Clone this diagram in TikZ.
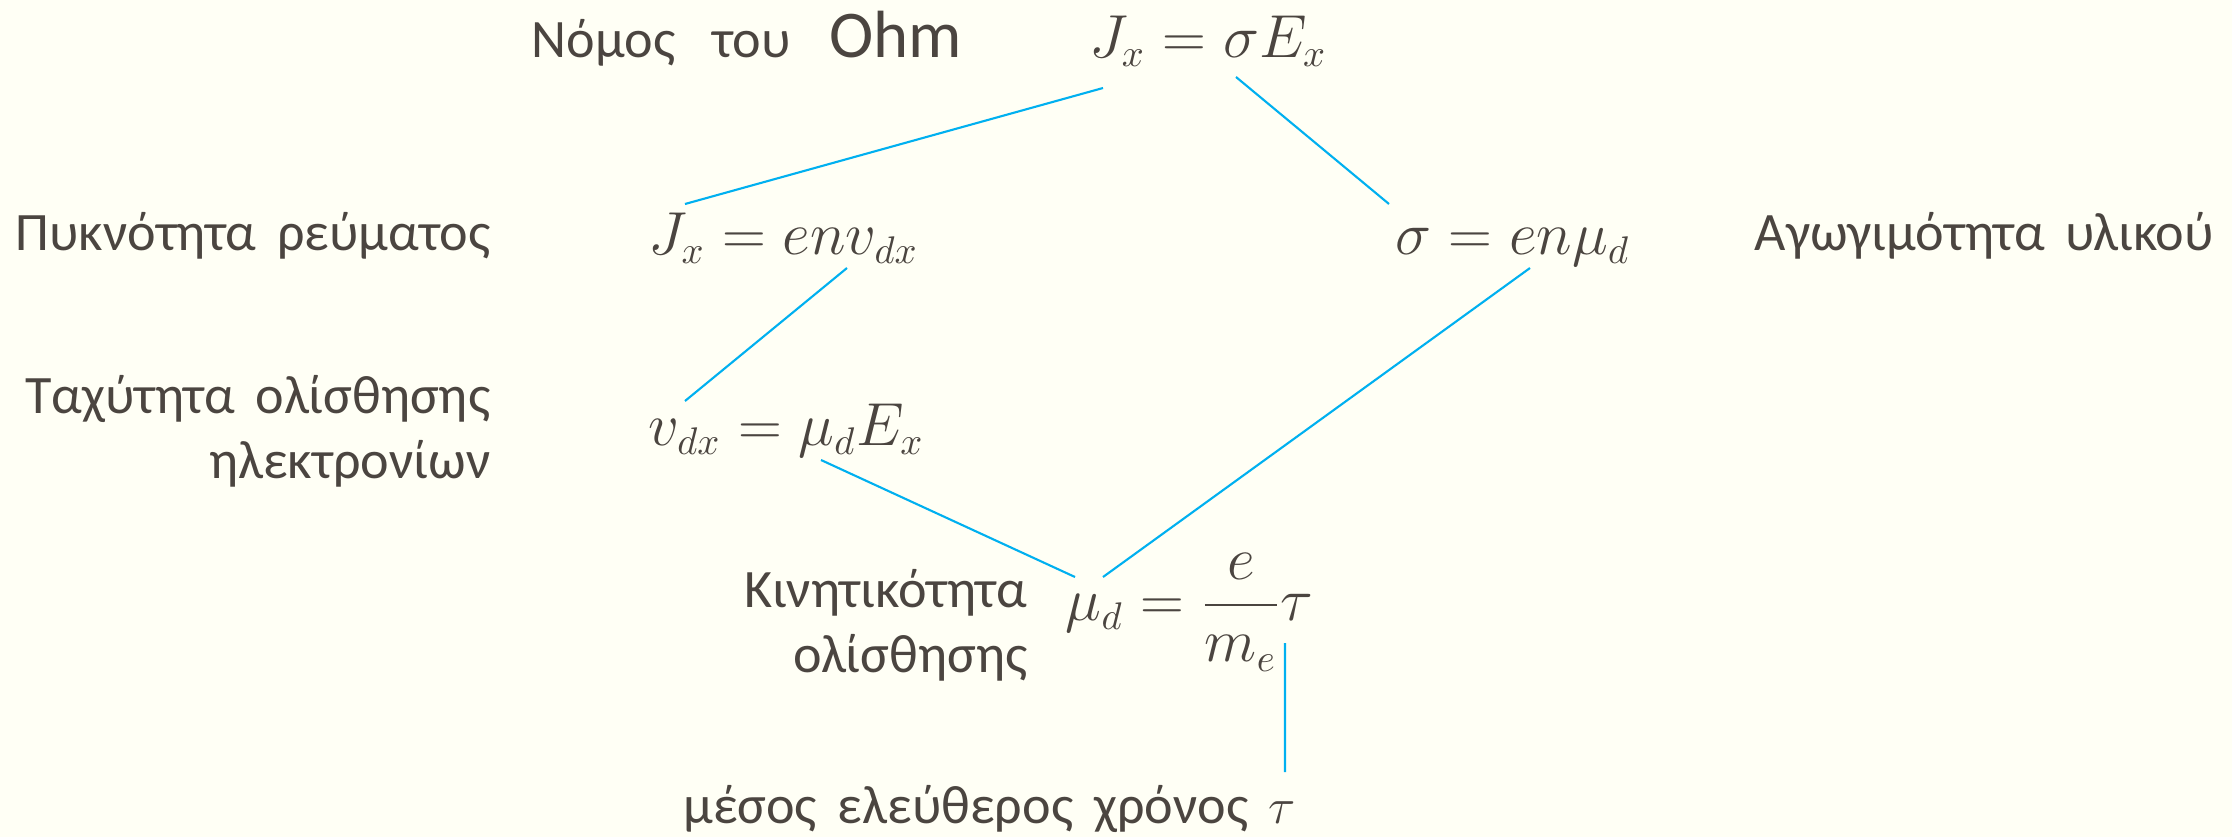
\documentclass[tikz,border=0pt]{standalone}
\usepackage{amsmath}
\usepackage{fontspec}
\setmainfont{Carlito}[WordSpace=1.7]
\usepackage{tikz}
\usetikzlibrary{positioning}
\definecolor{inkgray}{HTML}{4B4540}
\definecolor{paper}{HTML}{FFFFF5}
\definecolor{linkblue}{HTML}{00B0F0}

\begin{document}
\begin{tikzpicture}[
txt/.style={
text=inkgray,
font=\fontsize{15.4}{18.3}\selectfont,
inner sep=0pt
},
eq/.style={
text=inkgray,
font=\fontsize{16.2}{19}\selectfont,
inner sep=0pt
},
link/.style={
draw=linkblue,
line width=0.6pt
}
]

\fill[paper] (0,0) rectangle (22.32,-8.37);
\useasboundingbox (0,0) rectangle (22.32,-8.37);


% Ohm's law

\node (ohmlbl) [txt, anchor=base west] at (5.31,-0.57)
{Νόμος\hspace{0.16cm} του\hspace{0.18cm} {\fontsize{19}{20}\selectfont Ohm}};

\node (ohmeq) [eq, anchor=base] at (12.08,-0.57) {$J_x = \sigma E_x$};


% Current density and conductivity

\node (curlbl) [txt, anchor=base east] at (4.91,-2.50) {Πυκνότητα ρεύματος};

\node (cureq) [eq, anchor=base west] at (6.48,-2.54) {$J_x = env_{dx}$};

\node (sigeq) [eq, anchor=base west] at (13.95,-2.54) {$\sigma = en\mu_d$};

\node (siglbl) [txt, anchor=base west] at (17.54,-2.50) {Αγωγιμότητα υλικού};


% Drift velocity

\node (vellbl) [txt, anchor=base east, align=right] at (4.91,-4.78)
{Ταχύτητα ολίσθησης\\
ηλεκτρονίων};

\node (veleq) [eq, anchor=base west] at (6.48,-4.45) {$v_{dx} = \mu_d E_x$};


% Mobility

\node (moblbl) [txt, anchor=base east, align=right] at (10.28,-6.72)
{Κινητικότητα\\
ολίσθησης};

\node (mobeq) [eq, anchor=west] at (10.65,-6.12) {$\mu_d = \dfrac{e}{m_e}\tau$};


% Mean free time

\node (taulbl) [txt, anchor=base west] at (6.83,-8.23) {μέσος ελεύθερος χρόνος $\tau$};


\draw[link] ([shift={(-1.05,-0.31)}]ohmeq.base) -- ([shift={(0.37,0.50)}]cureq.base west);
\draw[link] ([shift={(0.28,-0.20)}]ohmeq.base) -- ([shift={(-0.06,0.50)}]sigeq.base west);

\draw[link] ([shift={(1.99,-0.14)}]cureq.base west) -- ([shift={(0.37,0.44)}]veleq.base west);
\draw[link] ([shift={(1.35,-0.14)}]sigeq.base west) -- ([shift={(0.38,0.35)}]mobeq.west);

\draw[link] ([shift={(1.73,-0.15)}]veleq.base west) -- ([shift={(0.10,0.35)}]mobeq.west);
\draw[link] ([shift={(2.20,-0.31)}]mobeq.west) -- ([shift={(6.02,0.51)}]taulbl.base west);

\end{tikzpicture}
\end{document}
